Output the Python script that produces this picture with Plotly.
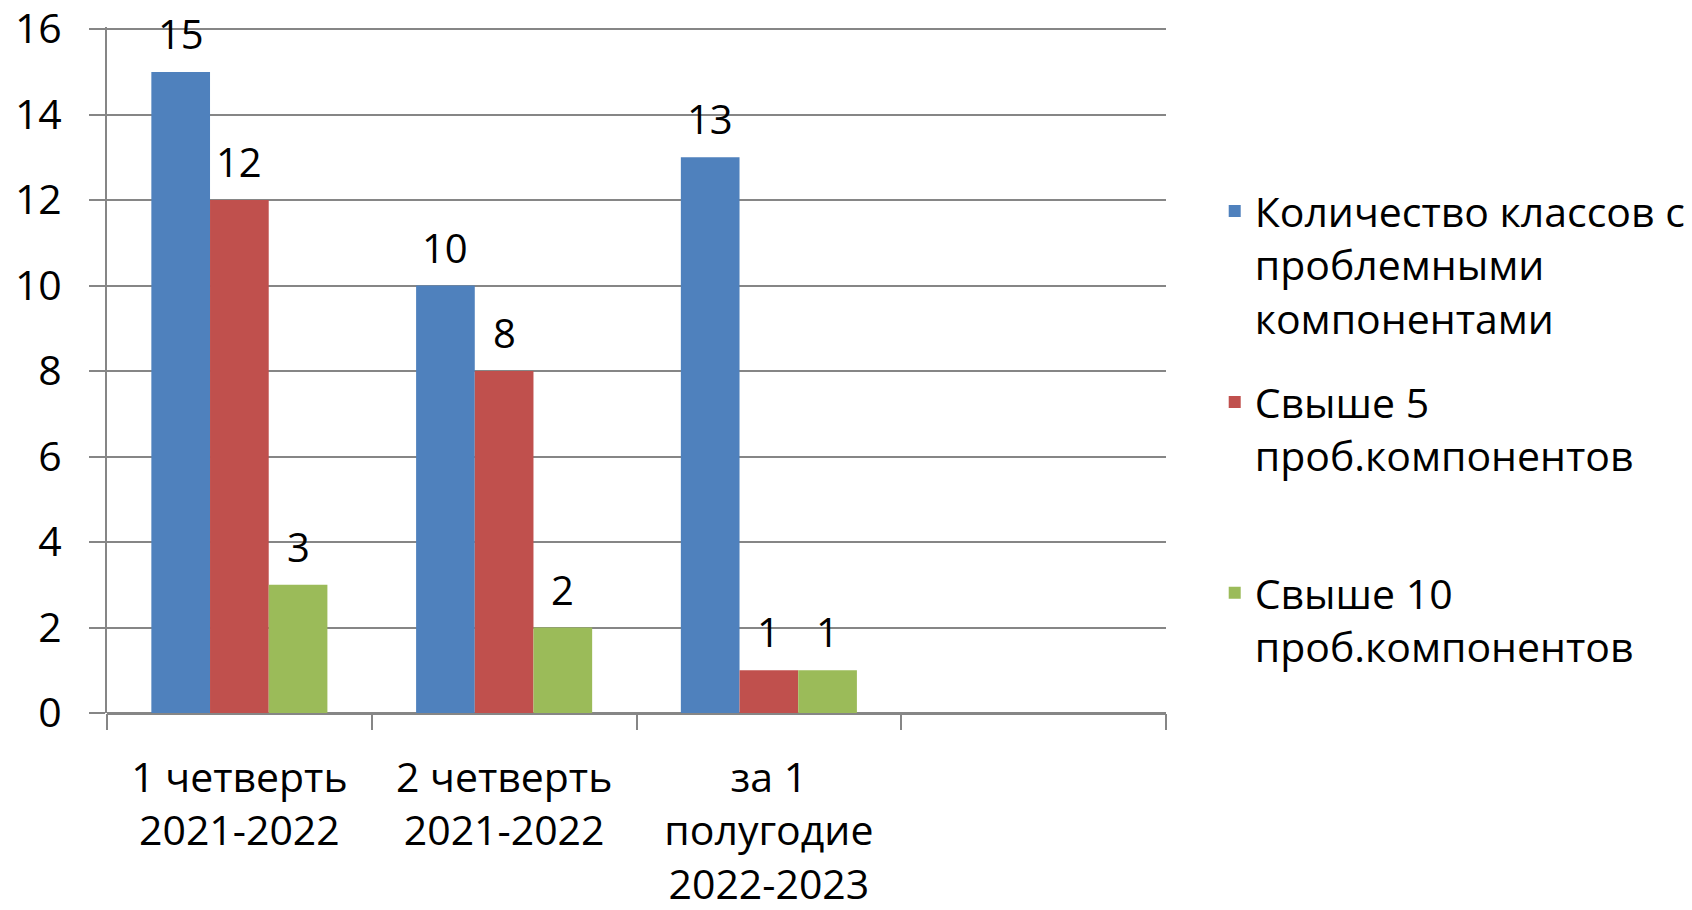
import plotly.graph_objects as go

categories = ["1 четверть<br>2021-2022", "2 четверть<br>2021-2022", "за 1<br>полугодие<br>2022-2023", " "]
series_names = [
    "Количество классов с<br>проблемными<br>компонентами",
    "Свыше 5<br>проб.компонентов<br> ",
    "Свыше 10<br>проб.компонентов",
]
total_classes = [15, 10, 13, None]
above_5 = [12, 8, 1, None]
above_10 = [3, 2, 1, None]
colors = ["#4F81BD", "#C0504D", "#9BBB59"]
y_ticks = [0, 2, 4, 6, 8, 10, 12, 14, 16]

FONT = "Open Sans"
FS = 40
TICK_FS = 41

W, H = 1692, 910
ML, MR, MT, MB = 99, 534, 19, 205
BARGAP = 0.335

fig = go.Figure()
all_series = [total_classes, above_5, above_10]
for name, vals, col in zip(series_names, all_series, colors):
    fig.add_trace(go.Bar(
        x=categories, y=vals, name=name, legendgroup=name,
        marker=dict(color=col, line=dict(width=0)),
        cliponaxis=False,
    ))

# data labels above the bars, anchored to each bar's value through the axes
plot_w = W - ML - MR
bar_px = plot_w / len(categories) * (1 - BARGAP) / len(all_series)
for i, vals in enumerate(all_series):
    for cat, v in zip(categories, vals):
        if v is None:
            continue
        fig.add_annotation(
            x=cat, y=v, xref="x", yref="y", text=str(v), showarrow=False,
            yanchor="bottom", xanchor="center",
            xshift=(i - (len(all_series) - 1) / 2) * bar_px, yshift=9,
            font=dict(family=FONT, size=FS, color="black"),
        )

fig.update_layout(
    width=W, height=H,
    margin=dict(l=ML, r=MR, t=MT, b=MB, autoexpand=False),
    paper_bgcolor="white", plot_bgcolor="white",
    barmode="group", bargap=BARGAP, bargroupgap=0,
    font=dict(family=FONT, size=FS, color="black"),
    showlegend=True,
    legend=dict(
        x=1.046, y=0.78, xanchor="left", yanchor="top",
        font=dict(family=FONT, size=41, color="black"),
        valign="top", traceorder="grouped", tracegroupgap=28,
        bgcolor="rgba(0,0,0,0)",
    ),
    xaxis=dict(
        type="category", categoryorder="array", categoryarray=categories,
        automargin=False,
        showgrid=False, showline=False, zeroline=False,
        ticks="outside", tickson="boundaries", ticklen=16, tickwidth=2, tickcolor="#868686",
        tickfont=dict(family=FONT, size=TICK_FS, color="black"),
        ticklabelstandoff=37,
    ),
    yaxis=dict(
        range=[0, 16.05], tickvals=y_ticks, automargin=False,
        ticklabeloverflow="allow",
        showgrid=True, gridcolor="#868686", gridwidth=2,
        showline=True, linecolor="#868686", linewidth=2,
        zeroline=True, zerolinecolor="#868686", zerolinewidth=3,
        ticks="outside", ticklen=16, tickwidth=2, tickcolor="#868686",
        tickfont=dict(family=FONT, size=TICK_FS, color="black"),
        ticklabelstandoff=19,
    ),
)

fig.write_html("out.html")
